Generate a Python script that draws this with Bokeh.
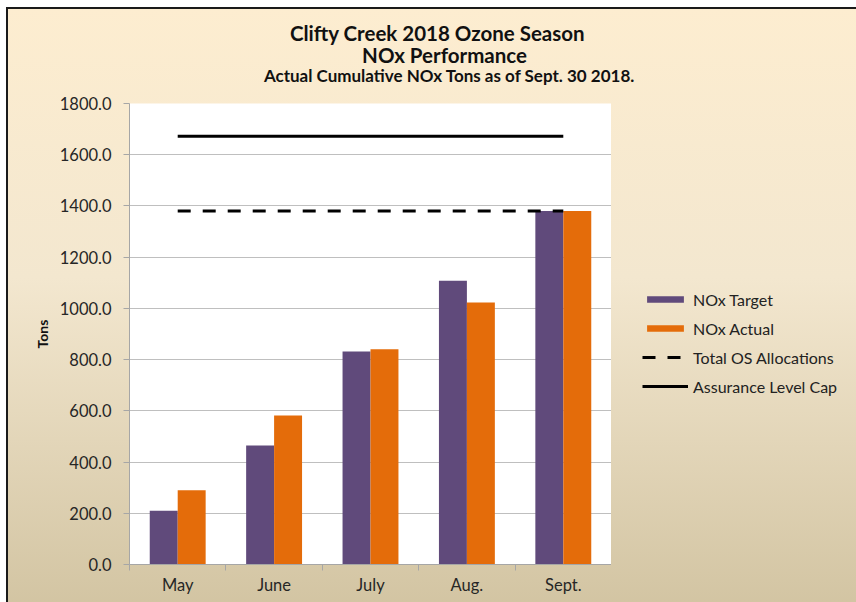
import numpy as np
from bokeh.plotting import figure
from bokeh.layouts import column, row
from bokeh.models import (ColumnDataSource, Range1d, FixedTicker, SingleIntervalTicker,
                          NumeralTickFormatter, Legend, LegendItem, Label)
from bokeh.transform import dodge
from bokeh.embed import file_html
from bokeh.resources import INLINE

# ---- data ----
months = ["May", "June", "July", "Aug.", "Sept."]
nox_target = [210, 465, 832, 1108, 1380]
nox_actual = [290, 582, 840, 1023, 1380]
total_os_allocations = 1380
assurance_level_cap = 1672

title_1 = "Clifty Creek 2018 Ozone Season"
title_2 = "NOx Performance"
subtitle = "Actual Cumulative NOx Tons as of Sept. 30 2018."
series_names = ["NOx Target", "NOx Actual", "Total OS Allocations", "Assurance Level Cap"]

FONT = "Lato"
PURPLE = "#604A7B"
ORANGE = "#E46C0A"
TITLE_H = 90


def bare(fig):
    fig.border_fill_color = None
    fig.background_fill_color = None
    fig.outline_line_color = None
    fig.grid.visible = False
    return fig


n = len(months)
centers = np.arange(n) + 0.5
src = ColumnDataSource(dict(
    x=centers,
    target=nox_target,
    actual=nox_actual,
    alloc=[total_os_allocations] * n,
    cap=[assurance_level_cap] * n,
))


def draw_series(fig, source):
    r1 = fig.vbar(x=dodge("x", -0.145, range=fig.x_range), top="target", width=0.29,
                  source=source, fill_color=PURPLE, line_color=None)
    r2 = fig.vbar(x=dodge("x", 0.145, range=fig.x_range), top="actual", width=0.29,
                  source=source, fill_color=ORANGE, line_color=None)
    r3 = fig.line("x", "alloc", source=source, line_color="black", line_width=3,
                  line_dash="13 12")
    r4 = fig.line("x", "cap", source=source, line_color="black", line_width=3)
    return [r1, r2, r3, r4]


# ---------------- title strip ----------------
pt = bare(figure(width=856, height=TITLE_H, output_backend="svg", toolbar_location=None,
                 x_axis_location=None, y_axis_location=None, min_border=0))
for txt, cx, cy, size in [(title_1, 437, 58, "20.5px"), (title_2, 444, 36, "20.5px"),
                          (subtitle, 449, 15, "17px")]:
    pt.add_layout(Label(x=cx, y=cy, x_units="screen", y_units="screen", text=txt,
                        text_font=FONT, text_font_style="bold", text_font_size=size,
                        text_color="#111", text_align="center", text_baseline="middle"))

# ---------------- main chart ----------------
p = figure(width=611, height=602 - TITLE_H, output_backend="svg", toolbar_location=None,
           x_range=Range1d(0, n), y_range=Range1d(0, 1800),
           min_border_left=129, min_border_right=0, min_border_top=103 - TITLE_H,
           min_border_bottom=38)
p.border_fill_color = None
p.background_fill_color = "white"
p.outline_line_color = None
draw_series(p, src)

ya = p.yaxis[0]
ya.ticker = SingleIntervalTicker(interval=200)
ya.formatter = NumeralTickFormatter(format="0.0")
ya.major_tick_in = 0
ya.major_tick_out = 6
ya.minor_tick_in = 0
ya.minor_tick_out = 0
ya.axis_line_color = "#A6A6A6"
ya.major_tick_line_color = "#A6A6A6"
ya.major_label_text_font = FONT
ya.major_label_text_font_size = "16.5px"
ya.major_label_text_color = "#262626"
ya.major_label_standoff = 12
ya.axis_label = "Tons"
ya.axis_label_text_font = FONT
ya.axis_label_text_font_style = "bold"
ya.axis_label_text_font_size = "14px"
ya.axis_label_text_color = "#111"
ya.axis_label_standoff = 6

xa = p.xaxis[0]
xa.ticker = FixedTicker(ticks=list(centers), minor_ticks=list(np.arange(n + 1)))
xa.major_label_overrides = {float(c): m for c, m in zip(centers, months)}
xa.major_tick_in = 0
xa.major_tick_out = 0
xa.minor_tick_in = 0
xa.minor_tick_out = 6
xa.axis_line_color = "#A6A6A6"
xa.minor_tick_line_color = "#A6A6A6"
xa.major_label_text_font = FONT
xa.major_label_text_font_size = "16.5px"
xa.major_label_text_color = "#262626"
xa.major_label_standoff = 4

p.xgrid.visible = False
p.ygrid.grid_line_color = "#BFBFBF"
p.ygrid.grid_line_width = 1

# ---------------- legend panel ----------------
# same series styles, scrolled out of this panel's view so only the legend shows
pl = bare(figure(width=856 - 611, height=602 - TITLE_H, output_backend="svg",
                 toolbar_location=None, x_axis_location=None, y_axis_location=None,
                 x_range=Range1d(-20, -10), y_range=Range1d(-20, -10), min_border=0))
legend_renderers = draw_series(pl, src)
legend = Legend(items=[LegendItem(label=nm, renderers=[r])
                       for nm, r in zip(series_names, legend_renderers)],
                location=(31, 168), glyph_width=46, glyph_height=8, spacing=9,
                label_height=20, padding=0, margin=0, label_standoff=5,
                label_text_font=FONT, label_text_font_size="16px", label_text_color="#222",
                background_fill_alpha=0, border_line_color=None)
pl.add_layout(legend, "center")

layout = column(pt, row(p, pl, spacing=0), spacing=0)
layout.styles = {
    "overflow": "hidden",
    "background": ("linear-gradient(#1a1a1a, #1a1a1a) 6px 7px / 2px 100% no-repeat, "
                   "linear-gradient(#1a1a1a, #1a1a1a) 6px 7px / 100% 2px no-repeat, "
                   "linear-gradient(to bottom, #FDEDD0 0%, #F3E7CF 45%, #D2C4A2 100%) "
                   "6px 7px / 100% 100% no-repeat, white"),
}

open("out.html", "w").write(file_html(layout, INLINE))
